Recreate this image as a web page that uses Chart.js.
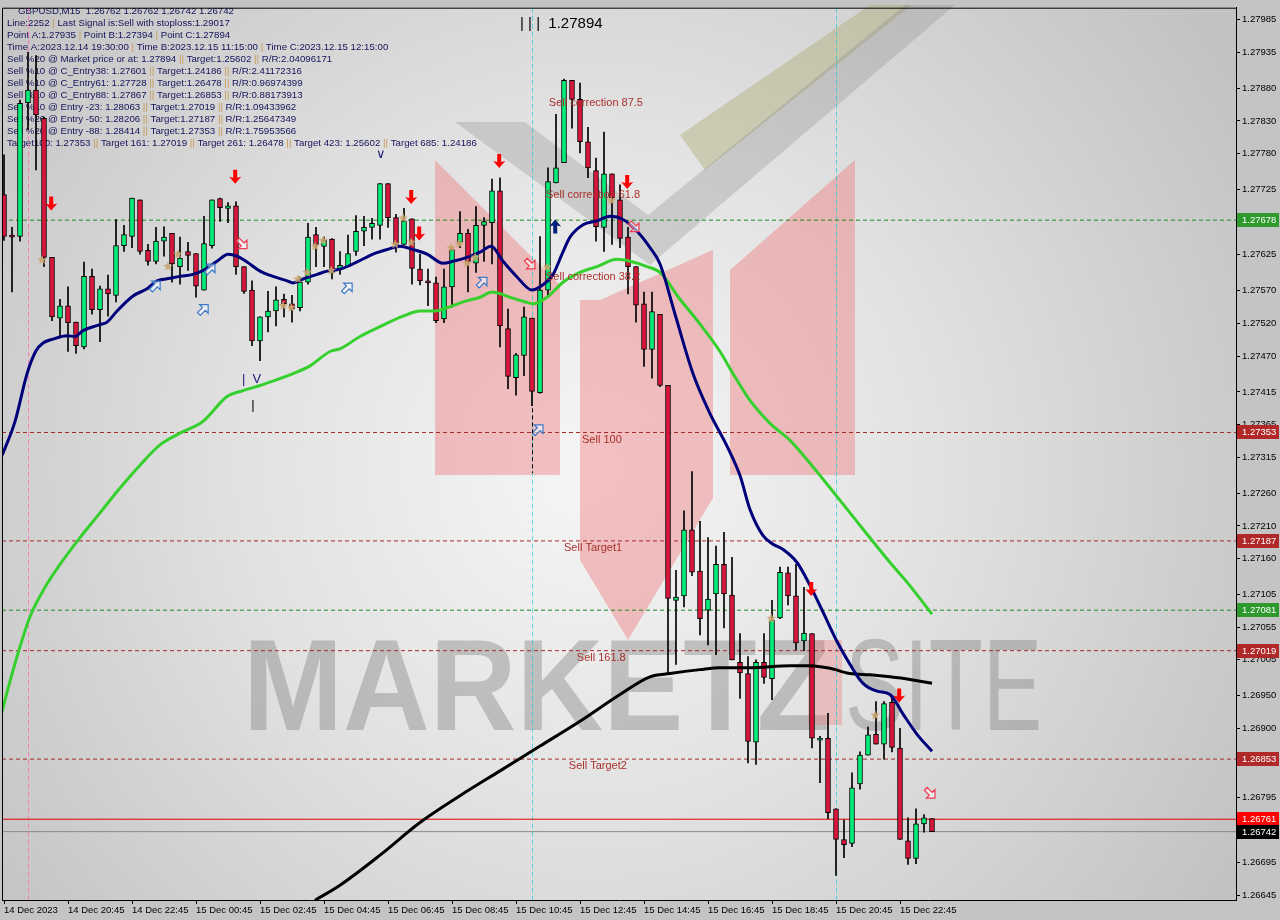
<!DOCTYPE html>
<html><head><meta charset="utf-8">
<script src="https://cdn.jsdelivr.net/npm/chart.js@4.4.1/dist/chart.umd.min.js"></script>
<style>html,body{margin:0;padding:0;background:#c4c4c4;overflow:hidden}</style>
</head><body>
<canvas id="c" width="1280" height="920"></canvas>
<script>
// ---------------- DATA ----------------
const xTickIndex = [0,8,16,24,32,40,48,56,64,72,80,88,96,104,112];
const xTickLabels = ["14 Dec 2023","14 Dec 20:45","14 Dec 22:45","15 Dec 00:45","15 Dec 02:45","15 Dec 04:45","15 Dec 06:45","15 Dec 08:45","15 Dec 10:45","15 Dec 12:45","15 Dec 14:45","15 Dec 16:45","15 Dec 18:45","15 Dec 20:45","15 Dec 22:45"];
const yTickValues = [1.27985,1.27935,1.27880,1.27830,1.27780,1.27725,1.27675,1.27625,1.27570,1.27520,1.27470,1.27415,1.27365,1.27315,1.27260,1.27210,1.27160,1.27105,1.27055,1.27005,1.26950,1.26900,1.26850,1.26795,1.26745,1.26695,1.26645];

const opens = [1.27717,1.27655,1.27653,1.27858,1.27877,1.27834,1.27621,1.27528,1.27547,1.27522,
 1.27484,1.27592,1.27541,1.27573,1.27563,1.27639,1.27653,1.27709,1.27632,1.27615,
 1.27646,1.27658,1.27607,1.27630,1.27627,1.27571,1.27639,1.27711,1.27696,1.27700,
 1.27607,1.27571,1.27493,1.27530,1.27539,1.27557,1.27550,1.27544,1.27583,1.27656,
 1.27638,1.27649,1.27603,1.27607,1.27630,1.27661,1.27667,1.27670,1.27734,1.27682,
 1.27641,1.27680,1.27603,1.27585,1.27582,1.27527,1.27576,1.27644,1.27658,1.27612,
 1.27670,1.27674,1.27723,1.27512,1.27437,1.27471,1.27528,1.27414,1.27571,1.27735,
 1.27766,1.27892,1.27863,1.27798,1.27754,1.27667,1.27749,1.27709,1.27652,1.27607,
 1.27550,1.27480,1.27534,1.27425,1.27096,1.27103,1.27204,1.27141,1.27081,1.27106,
 1.27151,1.27104,1.27001,1.26984,1.26879,1.27001,1.26976,1.27069,1.27138,1.27103,
 1.27034,1.27045,1.26882,1.26885,1.26777,1.26730,1.26724,1.26815,1.26859,1.26891,
 1.26876,1.26940,1.26870,1.26728,1.26701,1.26754,1.26762];
const highs = [1.27778,1.27667,1.27862,1.27935,1.27930,1.27836,1.27621,1.27557,1.27576,1.27522,
 1.27614,1.27603,1.27577,1.27594,1.27679,1.27670,1.27712,1.27709,1.27641,1.27667,
 1.27668,1.27658,1.27652,1.27644,1.27627,1.27684,1.27709,1.27712,1.27705,1.27706,
 1.27607,1.27585,1.27530,1.27569,1.27576,1.27565,1.27563,1.27591,1.27673,1.27667,
 1.27652,1.27650,1.27630,1.27655,1.27685,1.27684,1.27681,1.27734,1.27734,1.27687,
 1.27696,1.27680,1.27626,1.27603,1.27591,1.27603,1.27636,1.27691,1.27664,1.27699,
 1.27682,1.27741,1.27743,1.27542,1.27474,1.27545,1.27528,1.27653,1.27758,1.27840,
 1.27894,1.27892,1.27888,1.27820,1.27773,1.27813,1.27749,1.27732,1.27667,1.27607,
 1.27568,1.27568,1.27534,1.27425,1.27142,1.27233,1.27293,1.27217,1.27192,1.27179,
 1.27200,1.27162,1.27045,1.27010,1.27005,1.27045,1.27096,1.27147,1.27147,1.27151,
 1.27116,1.27045,1.26888,1.26923,1.26777,1.26760,1.26832,1.26864,1.26902,1.26941,
 1.26941,1.26949,1.26900,1.26763,1.26777,1.26768,1.26762];
const lows = [1.27647,1.27568,1.27646,1.27816,1.27755,1.27607,1.27524,1.27500,1.27477,1.27474,
 1.27481,1.27534,1.27492,1.27531,1.27553,1.27630,1.27636,1.27626,1.27609,1.27611,
 1.27623,1.27583,1.27580,1.27601,1.27560,1.27571,1.27635,1.27676,1.27674,1.27595,
 1.27566,1.27486,1.27463,1.27507,1.27516,1.27530,1.27522,1.27539,1.27580,1.27607,
 1.27607,1.27588,1.27595,1.27607,1.27624,1.27639,1.27649,1.27649,1.27667,1.27629,
 1.27641,1.27580,1.27579,1.27547,1.27521,1.27521,1.27545,1.27636,1.27568,1.27598,
 1.27615,1.27611,1.27484,1.27420,1.27410,1.27440,1.27394,1.27413,1.27562,1.27735,
 1.27766,1.27819,1.27781,1.27743,1.27646,1.27630,1.27641,1.27636,1.27565,1.27522,
 1.27454,1.27436,1.27423,1.26984,1.26998,1.27086,1.27134,1.27043,1.27028,1.27013,
 1.27054,1.27005,1.26946,1.26847,1.26845,1.26969,1.26944,1.27068,1.27089,1.27020,
 1.27019,1.26870,1.26817,1.26762,1.26675,1.26702,1.26719,1.26807,1.26859,1.26876,
 1.26853,1.26864,1.26730,1.26692,1.26693,1.26741,1.26742];
const closes = [1.27653,1.27652,1.27857,1.27877,1.27839,1.27621,1.27530,1.27547,1.27521,1.27486,
 1.27592,1.27541,1.27573,1.27565,1.27639,1.27656,1.27712,1.27630,1.27615,1.27646,
 1.27652,1.27611,1.27620,1.27624,1.27577,1.27642,1.27709,1.27697,1.27700,1.27607,
 1.27569,1.27493,1.27530,1.27539,1.27556,1.27550,1.27542,1.27583,1.27652,1.27641,
 1.27647,1.27598,1.27609,1.27627,1.27661,1.27667,1.27673,1.27734,1.27682,1.27641,
 1.27677,1.27604,1.27585,1.27582,1.27524,1.27576,1.27633,1.27658,1.27615,1.27670,
 1.27676,1.27723,1.27516,1.27439,1.27472,1.27530,1.27416,1.27571,1.27737,1.27758,
 1.27892,1.27863,1.27798,1.27758,1.27668,1.27749,1.27712,1.27650,1.27607,1.27548,
 1.27480,1.27538,1.27425,1.27099,1.27101,1.27204,1.27139,1.27068,1.27098,1.27151,
 1.27106,1.27005,1.26985,1.26880,1.27001,1.26978,1.27066,1.27139,1.27103,1.27031,
 1.27046,1.26885,1.26885,1.26771,1.26730,1.26722,1.26809,1.26859,1.26890,1.26876,
 1.26938,1.26871,1.26730,1.26701,1.26754,1.26763,1.26742];

// moving averages (x = candle index, y = price)
const blueX = [-0.5,0.13,1.38,2.88,4,4.88,6.13,7.88,8.88,9.88,12,12.88,14.13,16.13,17.88,19.13,20.75,22,23.63,24.88,26.63,28,29.13,30.38,32,33.63,35.38,36.13,37.38,39.13,40.38,42,44.13,46.13,47.88,49.5,51.13,52.88,54.88,56.13,57.88,59.5,60.88,62.38,64.13,66,67,68.63,69.75,70.75,72.38,74.13,75.75,77.38,79.13,80.75,82,83.88,86.13,88.25,90.38,92,93.25,94.88,96.13,97.38,99.13,100.75,102.38,104.13,105.75,107.38,109.13,110.75,112.38,114.13,116];
const blueY = [1.27311,1.27329,1.27370,1.27443,1.27478,1.27490,1.27496,1.27501,1.27500,1.27509,1.27518,1.27522,1.27539,1.27562,1.27573,1.27585,1.27589,1.27592,1.27595,1.27601,1.27615,1.27626,1.27623,1.27614,1.27600,1.27592,1.27585,1.27582,1.27588,1.27595,1.27600,1.27603,1.27614,1.27626,1.27633,1.27638,1.27633,1.27626,1.27612,1.27615,1.27621,1.27629,1.27638,1.27615,1.27591,1.27571,1.27576,1.27595,1.27626,1.27652,1.27671,1.27677,1.27684,1.27679,1.27661,1.27636,1.27611,1.27534,1.27443,1.27382,1.27332,1.27287,1.27235,1.27195,1.27182,1.27174,1.27154,1.27119,1.27078,1.27033,1.26998,1.26969,1.26957,1.26952,1.26922,1.26891,1.26865];
const greenX = [-0.5,0.75,2,3.25,5.13,7,9.5,12,14.5,17,19.5,22,24.88,27.88,29.88,32,34.13,36.13,38.25,40.75,42,44.5,47,49.88,52,53.88,55.38,57.38,59.5,61,63.25,64.88,66.13,67.88,69.88,72,74.13,76.63,78.25,80.38,82,84.5,87,89.5,91.13,93.25,95.75,98.25,100.75,105.75,110.75,112.88,116];
const greenY = [1.26914,1.26972,1.27025,1.27071,1.27116,1.27151,1.27192,1.27230,1.27268,1.27303,1.27334,1.27352,1.27370,1.27408,1.27417,1.27425,1.27434,1.27443,1.27455,1.27477,1.27481,1.27500,1.27515,1.27531,1.27539,1.27539,1.27544,1.27553,1.27560,1.27568,1.27560,1.27554,1.27550,1.27560,1.27583,1.27598,1.27607,1.27618,1.27615,1.27607,1.27598,1.27557,1.27519,1.27477,1.27443,1.27402,1.27367,1.27341,1.27306,1.27230,1.27154,1.27124,1.27075];
const blackX = [38.88,42,47,52,57,62,67,72,77,80.75,83.25,87,89.5,93.25,98.25,100.75,103.25,105.75,108.25,110.75,113.25,116];
const blackY = [1.26637,1.26660,1.26706,1.26756,1.26797,1.26835,1.26873,1.26911,1.26952,1.26979,1.26984,1.26990,1.26993,1.26993,1.26996,1.26996,1.26992,1.26984,1.26982,1.26979,1.26975,1.26969];

// horizontal levels
const levelPrices = [1.27678,1.27353,1.27187,1.27081,1.27019,1.26853,1.26761,1.26742];
const levelKinds  = ['green','red','red','green','red','red','last','bid'];

// vertical time markers (candle index)
const timeMarkIdx = [3,66,104];

// annotation texts (candle index, price)
const sellLabels = ["Sell correction 87.5","Sell correction 61.8","Sell correction 38.2","Sell 100","Sell Target1","Sell 161.8","Sell Target2"];
const sellLabelIdx = [68.1,67.75,67.75,72.25,70,71.6,70.6];
const sellLabelPrice = [1.27857,1.27717,1.27591,1.27341,1.27176,1.27008,1.26842];

const redArrowIdx = [5.9,28.9,50.9,51.9,61.9,77.9,100.9,111.9];
const redArrowPrice = [1.27702,1.27743,1.27712,1.27656,1.27767,1.27735,1.27112,1.26949];
const blueArrowIdx = [68.9];
const blueArrowPrice = [1.27670];
const hollowUpIdx = [18.9,25.75,24.9,42.9,59.75,66.75];
const hollowUpPrice = [1.27577,1.27603,1.27541,1.27574,1.27583,1.27357];
const hollowDnIdx = [29.75,65.75,78.75,115.75];
const hollowDnPrice = [1.27642,1.27611,1.27668,1.26801];
const starIdx = [4.75,20.5,21.75,36.75,37.9,34.9,35.9,38.9,39.9,40.9,48.9,49.9,50.9,55.9,56.9,57.9,58.9,67.9,75.9,95.9,108.9];
const starPrice = [1.27617,1.27607,1.27626,1.27588,1.27598,1.27547,1.27544,1.27638,1.27647,1.27601,1.27641,1.27681,1.27644,1.27636,1.27642,1.27612,1.27621,1.27606,1.27708,1.27068,1.26920];

const infoLines = [
 "GBPUSD,M15  1.26762 1.26762 1.26742 1.26742",
 "Line:2252 | Last Signal is:Sell with stoploss:1.29017",
 "Point A:1.27935 | Point B:1.27394 | Point C:1.27894",
 "Time A:2023.12.14 19:30:00 | Time B:2023.12.15 11:15:00 | Time C:2023.12.15 12:15:00",
 "Sell %20 @ Market price or at: 1.27894 || Target:1.25602 || R/R:2.04096171",
 "Sell %10 @ C_Entry38: 1.27601 || Target:1.24186 || R/R:2.41172316",
 "Sell %10 @ C_Entry61: 1.27728 || Target:1.26478 || R/R:0.96974399",
 "Sell %10 @ C_Entry88: 1.27867 || Target:1.26853 || R/R:0.88173913",
 "Sell %10 @ Entry -23: 1.28063 || Target:1.27019 || R/R:1.09433962",
 "Sell %20 @ Entry -50: 1.28206 || Target:1.27187 || R/R:1.25647349",
 "Sell %20 @ Entry -88: 1.28414 || Target:1.27353 || R/R:1.75953566",
 "Target100: 1.27353 || Target 161: 1.27019 || Target 261: 1.26478 || Target 423: 1.25602 || Target 685: 1.24186"
];

// ---------------- STYLES ----------------
const FONT = '"Liberation Sans", Arial, sans-serif';
const BULL = '#00f078', BEAR = '#dc143c';
const levelStyle = {
  green:{color:'#1f8a1f', dash:[4,3], box:'#2e9a2e'},
  red:{color:'#a52a2a', dash:[4,3], box:'#b02828'},
  last:{color:'#e00000', dash:[], box:'#ff0000'},
  bid:{color:'#8a8a8a', dash:[], box:'#000000'}
};

const idx = opens.map((_, i) => i);
const bodyData = idx.map(i => ({x:i, y:[opens[i], closes[i]]}));
const wickData = idx.map(i => ({x:i, y:[lows[i], highs[i]]}));
const bodyColors = idx.map(i => closes[i] >= opens[i] ? BULL : BEAR);

const datasets = [
  {type:'line', label:'ma-blue', data: blueX.map((x,k)=>({x, y:blueY[k]})), borderColor:'#00007a', borderWidth:3, pointRadius:0, cubicInterpolationMode:'monotone', order:0},
  {type:'line', label:'ma-green', data: greenX.map((x,k)=>({x, y:greenY[k]})), borderColor:'#36d02e', borderWidth:3, pointRadius:0, cubicInterpolationMode:'monotone', order:0},
  {type:'line', label:'ma-black', data: blackX.map((x,k)=>({x, y:blackY[k]})), borderColor:'#000000', borderWidth:3, pointRadius:0, cubicInterpolationMode:'monotone', order:0},
  {type:'bar', label:'body', data: bodyData, backgroundColor: bodyColors, borderColor:'#000', borderWidth:1, borderSkipped:false, barThickness:5, grouped:false, order:1},
  {type:'bar', label:'wick', data: wickData, backgroundColor:'#000', borderWidth:0, barThickness:1, grouped:false, order:2}
];
levelPrices.forEach((p,k) => {
  const st = levelStyle[levelKinds[k]];
  datasets.push({type:'line', label:'lvl'+k, data:[{x:-0.25,y:p},{x:154,y:p}], borderColor:st.color, borderWidth:1, borderDash:st.dash, pointRadius:0, order:3});
});

// ---------------- DRAW HELPERS ----------------
function star(ctx,x,y,r,color){
  ctx.beginPath();
  for(let k=0;k<10;k++){const a=-Math.PI/2+k*Math.PI/5;const rr=k%2?r*0.45:r;ctx.lineTo(x+rr*Math.cos(a),y+rr*Math.sin(a));}
  ctx.closePath();ctx.fillStyle=color;ctx.fill();
}
function solidArrow(ctx,x,y,dir,color){ // dir 1 = down, -1 = up
  ctx.beginPath();
  const pts=[[-2,-8],[2,-8],[2,0],[6,-1],[0,6],[-6,-1],[-2,0]];
  pts.forEach((p,k)=>{const px=x+p[0],py=y+p[1]*dir; k?ctx.lineTo(px,py):ctx.moveTo(px,py);});
  ctx.closePath();ctx.fillStyle=color;ctx.fill();
}
function hollowArrow(ctx,x,y,angle,color){
  ctx.save();ctx.translate(x,y);ctx.rotate(angle);
  ctx.beginPath();
  const pts=[[0,-7],[6,-1],[2,-1],[2,6],[-2,6],[-2,-1],[-6,-1]];
  pts.forEach((p,k)=>k?ctx.lineTo(p[0],p[1]):ctx.moveTo(p[0],p[1]));
  ctx.closePath();ctx.fillStyle='rgba(255,255,255,0.55)';ctx.fill();
  ctx.lineWidth=1.2;ctx.strokeStyle=color;ctx.stroke();ctx.restore();
}
function poly(ctx,pts,fill){ctx.beginPath();pts.forEach((p,k)=>k?ctx.lineTo(p[0],p[1]):ctx.moveTo(p[0],p[1]));ctx.closePath();ctx.fillStyle=fill;ctx.fill();}

const decor = {
  id:'decor',
  beforeDraw(chart){
    const ctx=chart.ctx, a=chart.chartArea;
    ctx.save();
    ctx.fillStyle='#c4c4c4';ctx.fillRect(0,0,chart.width,chart.height);
    const g=ctx.createRadialGradient(590,470,0,590,470,760);
    g.addColorStop(0,'#f6f6f6');g.addColorStop(0.45,'#e2e2e2');g.addColorStop(1,'#c2c2c2');
    ctx.fillStyle=g;ctx.fillRect(a.left,a.top,a.right-a.left,a.bottom-a.top);
    // logo artwork
    const pink='rgba(238,118,118,0.42)';
    poly(ctx,[[435,160],[560,285],[560,475],[435,475]],pink);
    poly(ctx,[[580,300],[713,300],[713,498],[628,640],[580,560]],pink);
    poly(ctx,[[730,270],[855,160],[855,475],[730,475]],pink);
    poly(ctx,[[600,300],[713,300],[713,250]],pink);
    poly(ctx,[[680,135],[870,5],[912,5],[705,170]],'rgba(170,168,110,0.40)');
    poly(ctx,[[455,122],[525,122],[648,215],[905,5],[955,5],[650,265]],'rgba(140,140,140,0.30)');
    // watermark
    ctx.fillStyle='rgba(120,120,120,0.38)';
    ctx.font='bold 120px '+FONT;
    let w=ctx.measureText('MARKETZ').width;
    ctx.save();ctx.translate(243,730);ctx.scale(587/w,1.08);ctx.fillText('MARKETZ',0,0);ctx.restore();
    ctx.font='120px '+FONT;
    w=ctx.measureText('SITE').width;
    ctx.save();ctx.translate(845,730);ctx.scale(197/w,1.08);ctx.fillText('SITE',0,0);ctx.restore();
    poly(ctx,[[808,640],[842,640],[842,725],[808,725]],'rgba(238,118,118,0.35)');
    // info text
    ctx.font='9.7px '+FONT;ctx.textBaseline='middle';
    infoLines.forEach((ln,k)=>{
      let x = k===0?18:7; const y = 11 + k*12;
      ln.split(/(\|\|?)/).forEach(tok=>{
        ctx.fillStyle = tok.startsWith('|') ? '#c89a55' : '#14145a';
        ctx.fillText(tok,x,y); x+=ctx.measureText(tok).width;
      });
    });
    // time markers
    const xs=chart.scales.x;
    ctx.lineWidth=1;
    timeMarkIdx.forEach((t,k)=>{
      const px=Math.round(xs.getPixelForValue(t))+0.5;
      ctx.strokeStyle = k===0?'rgba(255,111,176,0.8)':'rgba(0,205,215,0.6)';
      ctx.setLineDash([5,3]);ctx.beginPath();ctx.moveTo(px,a.top);ctx.lineTo(px,a.bottom);ctx.stroke();
    });
    ctx.setLineDash([]);
    ctx.restore();
  },
  afterDatasetsDraw(chart){
    const ctx=chart.ctx, xs=chart.scales.x, ys=chart.scales.y;
    const X=v=>xs.getPixelForValue(v), Y=v=>ys.getPixelForValue(v);
    ctx.save();
    starIdx.forEach((t,k)=>star(ctx,X(t),Y(starPrice[k]),5,'rgba(200,165,110,0.9)'));
    redArrowIdx.forEach((t,k)=>solidArrow(ctx,X(t),Y(redArrowPrice[k]),1,'#ff0000'));
    blueArrowIdx.forEach((t,k)=>solidArrow(ctx,X(t),Y(blueArrowPrice[k]),-1,'#00207a'));
    hollowUpIdx.forEach((t,k)=>hollowArrow(ctx,X(t),Y(hollowUpPrice[k]),Math.PI/4,'#3a78c8'));
    hollowDnIdx.forEach((t,k)=>hollowArrow(ctx,X(t),Y(hollowDnPrice[k]),Math.PI*3/4,'#ee3a50'));
    // sell labels
    ctx.font='11px '+FONT;ctx.textBaseline='middle';ctx.fillStyle='#a8302c';
    sellLabels.forEach((s,k)=>ctx.fillText(s,X(sellLabelIdx[k]),Y(sellLabelPrice[k])));
    // wave labels
    ctx.fillStyle='#000';ctx.font='15px '+FONT;
    ctx.fillText('| | |  1.27894',X(64.5),Y(1.27979));
    ctx.fillStyle='#1a1a7a';ctx.font='13px '+FONT;
    ctx.fillText('|  V',X(29.75),Y(1.27434));
    ctx.fillText('\u2228',X(46.5),Y(1.27778));
    ctx.fillStyle='#000';ctx.fillText('|',X(30.9),Y(1.27395));
    ctx.strokeStyle='#000';ctx.setLineDash([4,3]);ctx.lineWidth=1;
    ctx.beginPath();ctx.moveTo(Math.round(X(66))+0.5,Y(1.27390));ctx.lineTo(Math.round(X(66))+0.5,Y(1.27291));ctx.stroke();
    ctx.setLineDash([]);
    ctx.restore();
  },
  afterDraw(chart){
    const ctx=chart.ctx, a=chart.chartArea, ys=chart.scales.y;
    ctx.save();
    ctx.strokeStyle='#000';ctx.lineWidth=1;
    ctx.beginPath();ctx.moveTo(a.left+0.5,a.bottom);ctx.lineTo(a.left+0.5,a.top+0.5);ctx.lineTo(a.right,a.top+0.5);ctx.stroke();
    ctx.font='9.5px '+FONT;ctx.textBaseline='middle';
    levelPrices.forEach((p,k)=>{
      const st=levelStyle[levelKinds[k]];const y=Math.round(ys.getPixelForValue(p));
      ctx.fillStyle=st.box;ctx.fillRect(a.right+1,y-7,42,14);
      ctx.fillStyle='#ffffff';ctx.fillText(p.toFixed(5),a.right+6,y+0.5);
    });
    ctx.restore();
  }
};

Chart.defaults.font.family = FONT;
new Chart(document.getElementById('c'), {
  data:{datasets},
  options:{
    responsive:false, animation:false, devicePixelRatio:1,
    layout:{padding:{left:2,top:2,right:0,bottom:0}},
    plugins:{legend:{display:false}, tooltip:{enabled:false}},
    scales:{
      x:{type:'linear', min:-0.25, max:154, bounds:'data', offset:false, position:'bottom',
        afterBuildTicks:s=>{s.ticks = xTickIndex.map(v=>({value:v}));},
        afterFit:s=>{s.height=20;},
        ticks:{autoSkip:false, maxRotation:0, minRotation:0, align:'start', padding:1, color:'#000', font:{size:9.5}, callback:(v,i)=>xTickLabels[i]},
        grid:{offset:false, drawOnChartArea:false, drawTicks:true, tickLength:4, color:'#000'},
        border:{display:true, color:'#000'}
      },
      y:{type:'linear', position:'right', min:1.2663735, max:1.2800325, bounds:'data',
        afterBuildTicks:s=>{s.ticks = yTickValues.map(v=>({value:v}));},
        afterFit:s=>{s.width=44;},
        ticks:{padding:2, color:'#000', font:{size:9.5}, callback:v=>Number(v).toFixed(5)},
        grid:{drawOnChartArea:false, drawTicks:true, tickLength:4, color:'#000'},
        border:{display:true, color:'#000'}
      }
    }
  },
  plugins:[decor]
});
</script>
</body></html>
